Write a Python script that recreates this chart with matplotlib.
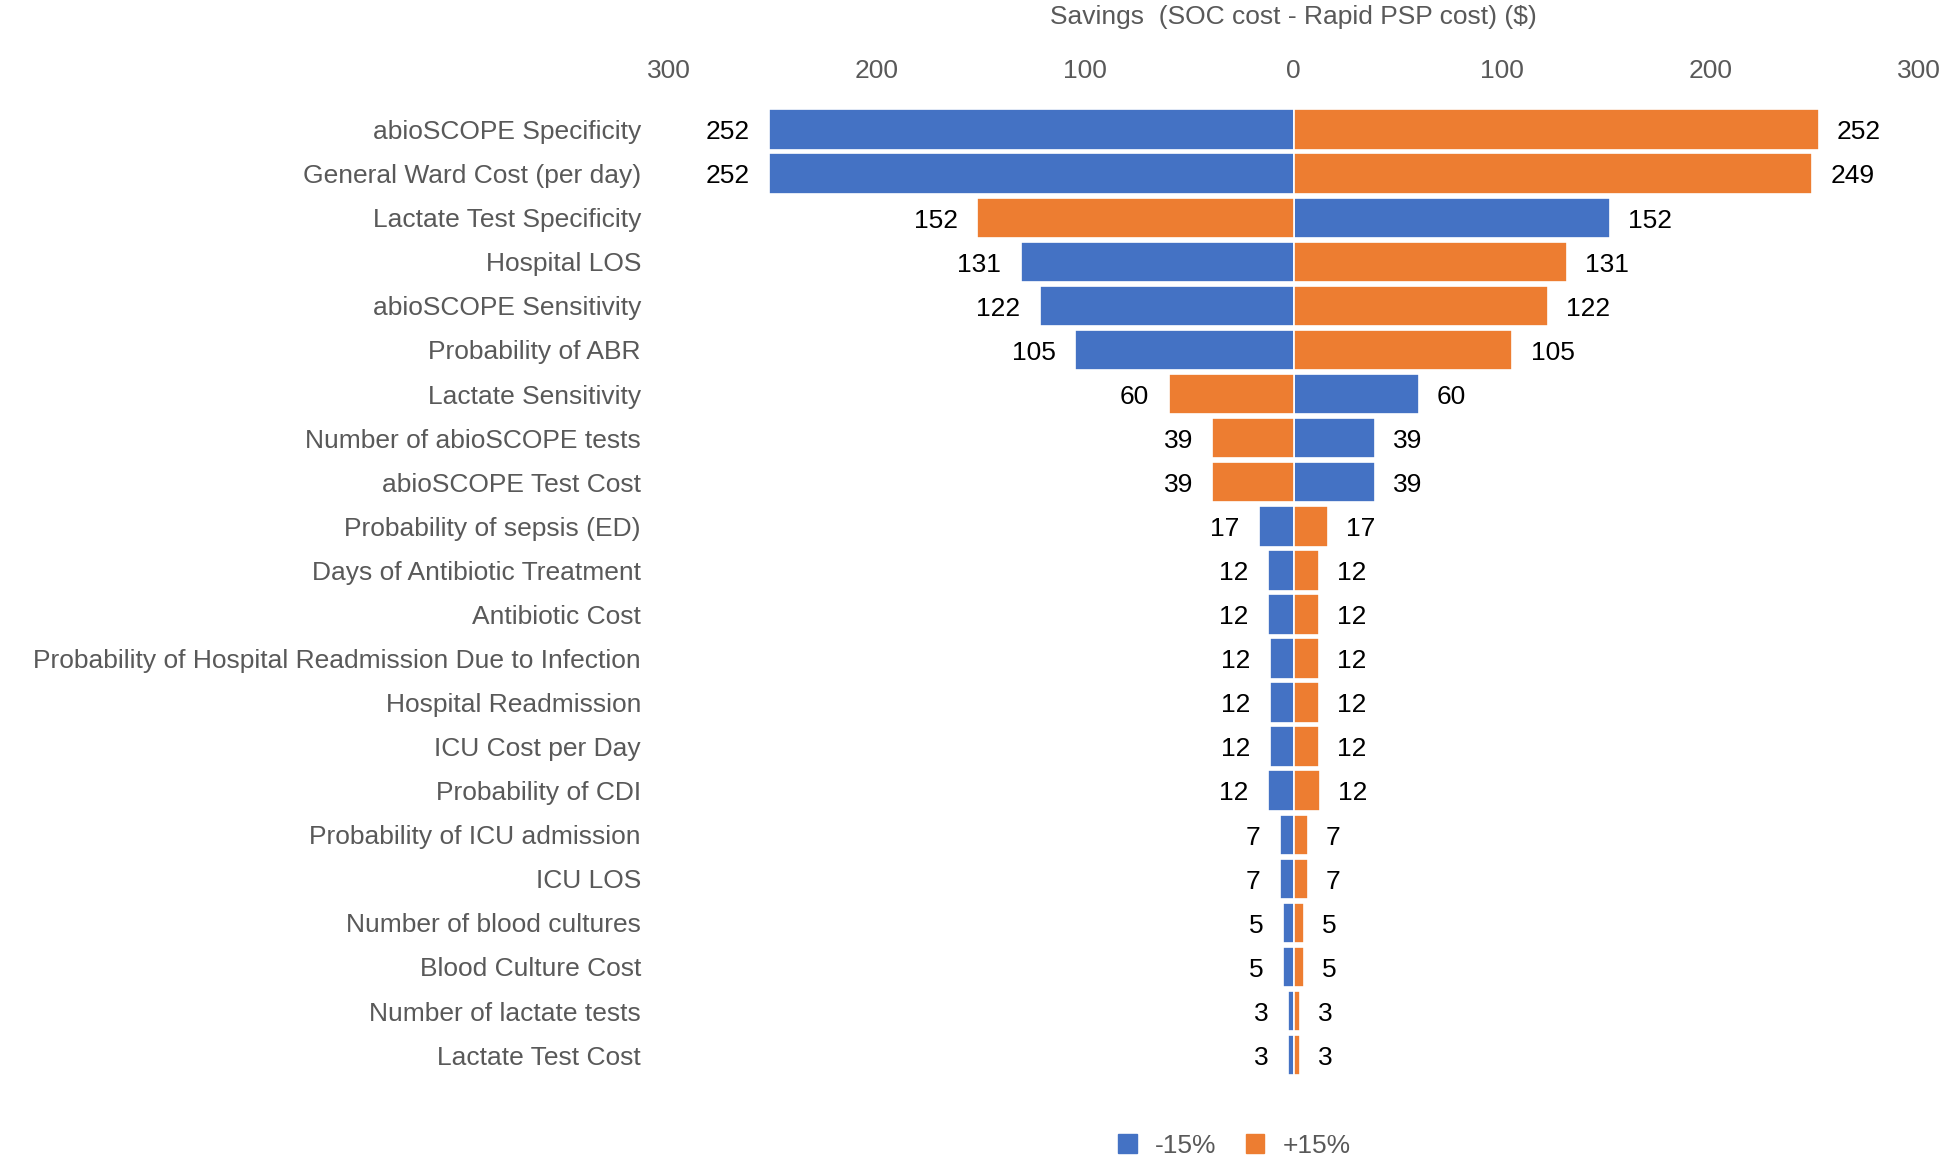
import numpy as np
import matplotlib.pyplot as plt
from matplotlib.ticker import FuncFormatter
from matplotlib.patches import Patch

# parámetros del análisis de sensibilidad (de arriba a abajo)
parametros = [
    "abioSCOPE Specificity", "General Ward Cost (per day)", "Lactate Test Specificity",
    "Hospital LOS", "abioSCOPE Sensitivity", "Probability of ABR", "Lactate Sensitivity",
    "Number of abioSCOPE tests", "abioSCOPE Test Cost", "Probability of sepsis (ED)",
    "Days of Antibiotic Treatment", "Antibiotic Cost",
    "Probability of Hospital Readmission Due to Infection", "Hospital Readmission",
    "ICU Cost per Day", "Probability of CDI", "Probability of ICU admission", "ICU LOS",
    "Number of blood cultures", "Blood Culture Cost", "Number of lactate tests",
    "Lactate Test Cost",
]
# ahorro con el parámetro a -15% y +15% (negativo = a la izquierda)
menos15 = [-252, -252, 152, -131, -122, -105, 60, 39, 39, -16.6,
           -12.2, -12.2, -11.5, -11.5, -11.5, -12.4, -6.7, -6.7, -5.2, -5.2, -2.9, -2.9]
mas15 = [252, 249, -152, 131, 122, 105, -60, -39, -39, 16.6,
         12.0, 12.0, 12.0, 12.0, 12.0, 12.5, 6.7, 6.7, 4.7, 4.7, 3.0, 3.0]

azul = "#4472C4"
naranja = "#ED7D31"
gris = "#595959"
plt.rcParams['font.family'] = ['Liberation Sans', 'DejaVu Sans']

fig = plt.figure(figsize=(19.44, 11.57), dpi=100)
ax = fig.add_axes([0.344, 0.069, 0.643, 0.838])

y = np.arange(len(parametros))
ax.barh(y, menos15, height=0.92, color=azul, edgecolor="white", linewidth=1.2)
ax.barh(y, mas15, height=0.92, color=naranja, edgecolor="white", linewidth=1.2)

# etiquetas de valor fuera del extremo de cada barra
for yi, a, b in zip(y, menos15, mas15):
    for v in (a, b):
        ax.annotate(f"{abs(v):.0f}", (v, yi), xytext=(13 if v > 0 else -14, -2),
                    textcoords="offset points", va="center",
                    ha="left" if v > 0 else "right", fontsize=19, color="black")

ax.set_xlim(-300, 300)
ax.set_ylim(len(parametros) - 0.5, -0.5)
ax.set_xticks([-300, -200, -100, 0, 100, 200, 300])
ax.xaxis.set_major_formatter(FuncFormatter(lambda v, p: f"{abs(v):.0f}"))
ax.xaxis.tick_top()
ax.xaxis.set_label_position("top")
ax.set_xlabel("Savings  (SOC cost - Rapid PSP cost) ($)", fontsize=19, color=gris, labelpad=25)
ax.set_yticks(y)
ax.set_yticklabels(parametros)
ax.tick_params(axis="x", length=0, labelsize=19, labelcolor=gris, pad=18)
ax.tick_params(axis="y", length=0, labelsize=19, labelcolor=gris, pad=20)
for s in ax.spines.values():
    s.set_visible(False)

fig.legend(handles=[Patch(color=azul, label="-15%"), Patch(color=naranja, label="+15%")],
           loc="lower center", bbox_to_anchor=(0.635, -0.021), ncol=2, frameon=False,
           fontsize=19, labelcolor=gris, handlelength=0.7, handleheight=0.7,
           columnspacing=1.1, handletextpad=0.7)

fig.savefig("out.png", dpi=100)
